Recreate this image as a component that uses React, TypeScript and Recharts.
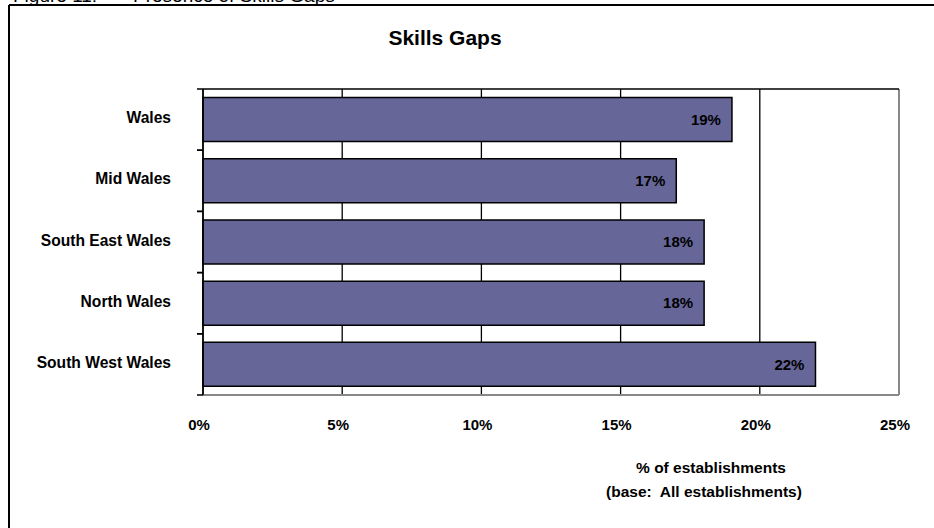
import React from 'react';
import { BarChart, Bar, XAxis, YAxis, CartesianGrid, ReferenceLine, LabelList } from 'recharts';

const categories = ['Wales', 'Mid Wales', 'South East Wales', 'North Wales', 'South West Wales'];
const values = [19, 17, 18, 18, 22];
const xTicks = [0, 5, 10, 15, 20, 25];
const chartTitle = 'Skills Gaps';
const figureLabel = 'Figure 11:';
const figureCaption = 'Presence of Skills Gaps';
const axisTitle1 = '% of establishments';
const axisTitle2 = '(base:  All establishments)';

const data = categories.map((name, i) => ({ name, value: values[i] }));

const FONT = '"Liberation Sans", Arial, sans-serif';

const W = 934;
const H = 528;
const MARGIN = { top: 79, right: 35, bottom: 73, left: 13 };
const TOP_AXIS_H = 10;
const BOTTOM_AXIS_H = 60;
const PLOT_H = H - MARGIN.top - MARGIN.bottom - TOP_AXIS_H - BOTTOM_AXIS_H;
const BAND = PLOT_H / categories.length;

const CatTick = (props: any) => {
  const { x, y, payload } = props;
  return (
    <g>
      <line x1={x} x2={x + 6} y1={y - BAND / 2} y2={y - BAND / 2} stroke="#000" strokeWidth={1.5} />
      <line x1={x} x2={x + 6} y1={y + BAND / 2} y2={y + BAND / 2} stroke="#000" strokeWidth={1.5} />
      <text x={x - 26} y={y - 2} textAnchor="end" dominantBaseline="central" fontFamily={FONT} fontWeight="bold" fontSize={15.6} fill="#000">
        {payload.value}
      </text>
    </g>
  );
};

export default function App() {
  return (
    <div style={{ position: 'absolute', left: 0, top: 0, width: W, height: H, overflow: 'hidden', background: '#fff', fontFamily: FONT }}>
      <svg width={W} height={H} style={{ position: 'absolute', left: 0, top: 0 }}>
        <line x1={9} y1={5} x2={W} y2={5} stroke="#000" strokeWidth={2} />
        <line x1={9} y1={5} x2={9} y2={H} stroke="#000" strokeWidth={2} />
        <text x={13} y={1.5} fontFamily={FONT} fontSize={19} fill="#000">{figureLabel}</text>
        <text x={133} y={1.5} fontFamily={FONT} fontSize={19} fill="#000">{figureCaption}</text>
        <text x={445} y={45} textAnchor="middle" fontFamily={FONT} fontWeight="bold" fontSize={21} fill="#000">{chartTitle}</text>
        <text x={711} y={473} textAnchor="middle" fontFamily={FONT} fontWeight="bold" fontSize={15.5} fill="#000">{axisTitle1}</text>
        <text x={704} y={497} textAnchor="middle" fontFamily={FONT} fontWeight="bold" fontSize={15.5} fill="#000" style={{ whiteSpace: 'pre' }}>{axisTitle2}</text>
      </svg>
      <div style={{ position: 'absolute', left: 0, top: 0 }}>
        <BarChart
          width={W}
          height={H}
          data={data}
          layout="vertical"
          margin={MARGIN}
          barCategoryGap="14%"
        >
          <CartesianGrid horizontal={false} vertical stroke="#000" strokeWidth={1.3} xAxisId="bottom" yAxisId="cat" />
          <XAxis
            xAxisId="top"
            orientation="top"
            type="number"
            domain={[0, 25]}
            ticks={xTicks}
            height={TOP_AXIS_H}
            tick={false}
            tickSize={6}
            axisLine={{ stroke: '#000', strokeWidth: 1.5 }}
            tickLine={{ stroke: '#000', strokeWidth: 1.5 }}
          />
          <XAxis
            xAxisId="bottom"
            orientation="bottom"
            type="number"
            domain={[0, 25]}
            ticks={xTicks}
            interval={0}
            height={BOTTOM_AXIS_H}
            tickSize={0}
            tickMargin={24}
            tickLine={false}
            axisLine={{ stroke: '#888', strokeWidth: 2 }}
            tickFormatter={(v: number) => `${v}%`}
            tick={{ fill: '#000', fontSize: 15, fontWeight: 'bold', fontFamily: FONT, dx: -4 }}
          />
          <YAxis
            yAxisId="cat"
            type="category"
            dataKey="name"
            width={190}
            interval={0}
            tickSize={6}
            tickMargin={0}
            tickLine={false}
            axisLine={{ stroke: '#000', strokeWidth: 1.5 }}
            tick={<CatTick />}
          />
          <ReferenceLine x={25} xAxisId="bottom" yAxisId="cat" stroke="#888" strokeWidth={2} />
          <Bar dataKey="value" xAxisId="bottom" yAxisId="cat" fill="#666699" stroke="#000" strokeWidth={1.5} isAnimationActive={false}>
            <LabelList
              dataKey="value"
              position="insideRight"
              offset={11}
              formatter={(v: any) => `${v}%`}
              fill="#000"
              fontSize={15}
              fontWeight="bold"
              fontFamily={FONT}
            />
          </Bar>
        </BarChart>
      </div>
    </div>
  );
}
